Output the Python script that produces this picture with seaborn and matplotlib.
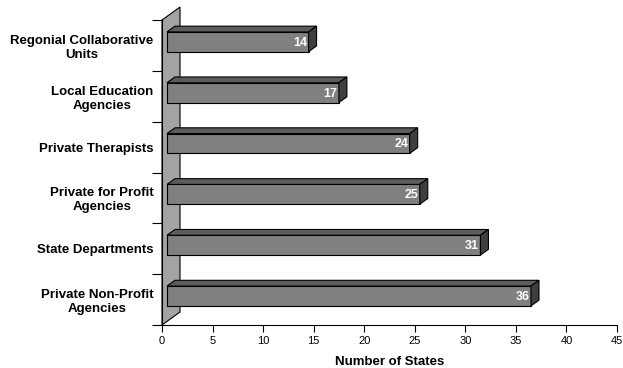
import numpy as np
import pandas as pd
import matplotlib
matplotlib.use("Agg")
import matplotlib.pyplot as plt
import seaborn as sns
from matplotlib.patches import Polygon
from matplotlib.transforms import IdentityTransform, Affine2D

categories = [
    "Regonial Collaborative\nUnits",
    "Local Education\nAgencies",
    "Private Therapists",
    "Private for Profit\nAgencies",
    "State Departments",
    "Private Non-Profit\nAgencies",
]
values = [14, 17, 24, 25, 31, 36]
x_ticks = [0, 5, 10, 15, 20, 25, 30, 35, 40, 45]
x_label = "Number of States"

FRONT = "#808080"
TOP = "#5c5c5c"
SIDE = "#3f3f3f"
WALL = "#a3a3a3"

sns.set_theme(style="white")
plt.rcParams["font.family"] = ["Liberation Sans", "DejaVu Sans"]
plt.rcParams.update({"text.color": "black", "axes.labelcolor": "black",
                     "xtick.color": "black", "ytick.color": "black"})

W, H = 623, 368
fig = plt.figure(figsize=(W / 100, H / 100), dpi=100)
ax = fig.add_axes([162 / W, 43 / H, 455 / W, 305 / H])

df = pd.DataFrame({"category": categories, "value": values})
bar_h = 0.39
sns.barplot(data=df, y="category", x="value", orient="h", color=FRONT,
            saturation=1, width=bar_h, edgecolor="black", linewidth=0.8,
            ax=ax, zorder=3)

ax.set_xlim(0, 45)
ax.set_ylim(len(categories) - 0.5, -0.5)
ax.set_xticks(x_ticks)
ax.set_xticklabels([str(t) for t in x_ticks], fontsize=8)
ax.set_xlabel(x_label, fontsize=9.5, fontweight="bold", labelpad=7)
ax.set_ylabel("")
ax.set_yticks(range(len(categories)))
ax.set_yticklabels(categories, fontsize=9.5, fontweight="bold")
for lab in ax.get_yticklabels():
    lab.set_multialignment("center")
ax.set_yticks(np.arange(-0.5, len(categories)), minor=True)
ax.tick_params(axis="y", which="major", length=0, pad=6)
ax.tick_params(axis="y", which="minor", length=7, width=0.8, color="black",
               direction="out", left=True)
ax.tick_params(axis="x", which="major", length=5, width=0.8, color="black",
               direction="out", bottom=True, pad=3)

for side in ("top", "right"):
    ax.spines[side].set_visible(False)
for side in ("left", "bottom"):
    ax.spines[side].set_color("black")
    ax.spines[side].set_linewidth(0.8)
    ax.spines[side].set_zorder(4)

# depth direction in display pixels (x right, y up)
def depth(d):
    return np.array([d, d * 0.72])

front_d, back_d, wall_d = depth(5.0), depth(13.0), depth(18.0)
to_disp = ax.transData.transform

# front faces of the bars sit a little way into the depth
shift = Affine2D().translate(*front_d)
for bar in list(ax.patches):
    bar.set_transform(ax.transData + shift)
    bar.set_clip_on(False)

# back wall standing on the left of the plot
y0, y1 = ax.get_ylim()
p_bot, p_top = to_disp([(0, y0), (0, y1)])
wall = Polygon([p_bot, p_top, p_top + wall_d, p_bot + wall_d],
               closed=True, transform=IdentityTransform(), facecolor=WALL,
               edgecolor="black", linewidth=0.8, zorder=1)
ax.add_artist(wall)
wall.set_clip_on(False)

for i, v in enumerate(values):
    yt, yb = i - bar_h / 2, i + bar_h / 2
    tl, tr, br = to_disp([(0, yt), (v, yt), (v, yb)])
    top = Polygon([tl + front_d, tr + front_d, tr + back_d, tl + back_d],
                  closed=True, transform=IdentityTransform(), facecolor=TOP,
                  edgecolor="black", linewidth=0.8, zorder=3)
    side = Polygon([tr + front_d, br + front_d, br + back_d, tr + back_d],
                   closed=True, transform=IdentityTransform(), facecolor=SIDE,
                   edgecolor="black", linewidth=0.8, zorder=3)
    ax.add_artist(top)
    ax.add_artist(side)
    top.set_clip_on(False)
    side.set_clip_on(False)
    cx, cy = to_disp([(v, i)])[0] + front_d
    ax.text(cx - 1.5, cy - 1.0, str(v), transform=IdentityTransform(),
            ha="right", va="center", color="white", fontsize=9,
            fontweight="bold", zorder=5)

fig.savefig("out.png", dpi=100)
